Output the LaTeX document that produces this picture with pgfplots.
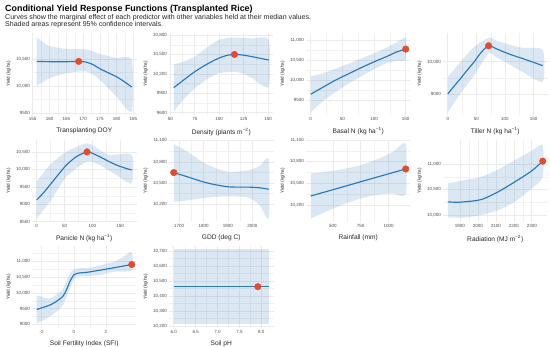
\documentclass[border=0pt]{standalone}
\usepackage{pgfplots}
\pgfplotsset{compat=1.18}
\usepackage{fontspec}
\setmainfont{Liberation Sans}
\definecolor{linec}{HTML}{2878B5}
\definecolor{bandc}{HTML}{2878B5}
\definecolor{ptc}{HTML}{E6492D}
\definecolor{gridc}{HTML}{EBEBEB}
\definecolor{tickc}{HTML}{4D4D4D}
\pgfplotsset{
  panel/.style={
    scale only axis, width=104.5pt, height=82pt,
    anchor=south west,
    axis line style={draw=none},
    major tick length=0pt, minor tick length=0pt,
    grid=both,
    major grid style={color=gridc, line width=0.55pt},
    minor grid style={color=gridc!70, line width=0.3pt},
    minor x tick num=1, minor y tick num=1,
    enlarge x limits=0.05,
    scaled x ticks=false, scaled y ticks=false,
    /pgf/number format/assume math mode=true,
    tick label style={font=\fontsize{4.5}{5}\selectfont, text=tickc},
    yticklabel style={/pgf/number format/1000 sep={,}, /pgf/number format/min exponent for 1000 sep=4, inner sep=1.8pt},
    xticklabel style={/pgf/number format/1000 sep={}, inner sep=2.6pt},
    ylabel={Yield (kg/ha)},
    ylabel style={font=\fontsize{4.6}{5}\selectfont, text=black!85, inner sep=1pt},
    every axis y label/.append style={at={(ticklabel cs:0.5,2.5pt)}},
    every axis x label/.append style={at={(ticklabel cs:0.5,2.5pt)}},
    xlabel style={font=\fontsize{6.6}{7}\selectfont, text=black!85, inner sep=1.5pt},
  },
  curve/.style={color=linec, line width=1.15pt, smooth},
  pt/.style={only marks, mark=*, mark size=3.3pt, color=ptc},
  band/.style={fill=bandc, fill opacity=0.17, draw=none, smooth, tension=0.4},
}
\begin{document}
\begin{tikzpicture}
\useasboundingbox (0pt,0pt) rectangle (550pt,-347pt);
\node[anchor=base west, inner sep=0pt, font=\fontsize{8.9}{9}\selectfont\bfseries] at (5pt,-11.5pt) {Conditional Yield Response Functions (Transplanted Rice)};
\node[anchor=base west, inner sep=0pt, font=\fontsize{7.05}{7}\selectfont, text=black!85] at (5pt,-19.7pt) {Curves show the marginal effect of each predictor with other variables held at their median values.};
\node[anchor=base west, inner sep=0pt, font=\fontsize{7.05}{7}\selectfont, text=black!85] at (5pt,-27pt) {Shaded areas represent 95\% confidence intervals.};

% Row 1
\begin{axis}[panel, at={(32pt,-115pt)}, ymin=9463, ymax=10981,
  xtick={155,160,...,185}, ytick={9500,10000,10500}, xlabel={Transplanting DOY}]
\addplot[band] coordinates {(156.2,10906)(158,10810)(160,10737)(165,10687)(171,10675)(175,10594)(180,10519)(184.5,10487)
     (184.5,9530)(180,9800)(175,10112)(171,10270)(165,10237)(160,10144)(156.2,10000)} -- cycle;
\addplot[curve] coordinates {(156.2,10455)(160,10450)(164,10448)(168.7,10455)(171,10440)(173,10395)(175,10320)(178,10230)(180,10170)(182.5,10070)(184.5,9980)};
\addplot[pt] coordinates {(168.7,10455)};
\end{axis}

\begin{axis}[panel, at={(169pt,-115pt)}, ymin=9564, ymax=10831,
  xtick={50,75,100,125,150}, ytick={9600,9900,10200,10500,10800}, xlabel={Density (plants m\textsuperscript{−2})}]
\addplot[band] coordinates {(53.5,10346)(62,10380)(75,10464)(87,10600)(99,10721)(110,10757)(120,10760)(134,10747)(150.7,10721)
     (150.7,10001)(134,10130)(125,10200)(115.6,10233)(99,10207)(87,10110)(75,9976)(62,9780)(53.5,9616)} -- cycle;
\addplot[curve] coordinates {(53.5,9986)(65,10120)(75,10233)(87,10345)(99,10438)(108,10485)(115.6,10500)(125,10488)(134,10464)(142,10440)(150.7,10413)};
\addplot[pt] coordinates {(115.6,10500)};
\end{axis}

\begin{axis}[panel, at={(306pt,-115pt)}, ymin=9120, ymax=11195,
  xtick={0,50,100,150}, ytick={9500,10000,10500,11000}, xlabel={Basal N (kg ha\textsuperscript{−1})}]
\addplot[band] coordinates {(0,10093)(20,10180)(40,10300)(60,10420)(80,10555)(100,10680)(120,10830)(135,10950)(150,11068)
     (150,10517)(135,10490)(120,10430)(100,10280)(80,10100)(60,9920)(40,9712)(20,9480)(0,9187)} -- cycle;
\addplot[curve] coordinates {(0,9645)(20,9830)(40,10009)(60,10165)(80,10320)(100,10465)(120,10600)(135,10710)(150,10788)};
\addplot[pt] coordinates {(150,10788)};
\end{axis}

\begin{axis}[panel, at={(443pt,-115pt)}, ymin=8349, ymax=10890,
  xtick={0,50,100,150}, ytick={9000,10000}, xlabel={Tiller N (kg ha\textsuperscript{−1})}]
\addplot[band] coordinates {(0,9536)(22.6,10000)(46.4,10464)(71.4,10742)(85,10650)(100,10567)(130,10433)(166,10361)
     (166,9382)(130,9691)(100,10000)(85,10130)(71.4,10258)(46.4,9588)(22.6,9021)(0,8434)} -- cycle;
\addplot[curve] coordinates {(0,9000)(11,9240)(22.6,9485)(35,9760)(46.4,10000)(58,10280)(71.4,10494)(85,10400)(100,10289)(115,10190)(130,10103)(150,9980)(166,9876)};
\addplot[pt] coordinates {(71.4,10494)};
\end{axis}

% Row 2
\begin{axis}[panel, at={(32pt,-222pt)}, ymin=8491, ymax=10854,
  xtick={0,50,100,150}, ytick={8500,9000,...,10500}, xlabel={Panicle N (kg ha\textsuperscript{−1})}]
\addplot[band] coordinates {(0,9655)(23.8,10135)(53.6,10519)(90.5,10759)(113,10567)(131,10423)(171,10423)
     (171,9607)(143,9847)(113,10135)(90.5,10231)(53.6,9799)(23.8,9079)(0,8599)} -- cycle;
\addplot[curve] coordinates {(0,9127)(12,9330)(23.8,9559)(40,9880)(53.6,10135)(71.4,10375)(90.5,10510)(100,10470)(113,10375)(128,10250)(143,10135)(160,10040)(171,9991)};
\addplot[pt] coordinates {(90.5,10510)};
\end{axis}

\begin{axis}[panel, at={(169pt,-222pt)}, ymin=9944, ymax=11110,
  xtick={1700,1800,1900,2000}, ytick={10200,10500,10800,11100}, xlabel={GDD (deg C)}]
\addplot[band] coordinates {(1678,11052)(1731,10950)(1814,10760)(1900,10660)(1984,10680)(2030,10740)(2067,10830)
     (2067,9997)(2030,10180)(1984,10290)(1900,10310)(1814,10290)(1731,10250)(1678,10230)} -- cycle;
\addplot[curve] coordinates {(1678,10647)(1731,10590)(1814,10500)(1900,10445)(1984,10440)(2030,10430)(2067,10410)};
\addplot[pt] coordinates {(1678,10647)};
\end{axis}

\begin{axis}[panel, at={(306pt,-222pt)}, ymin=9965, ymax=11100,
  xtick={500,750,1000}, ytick={10200,10500,10800,11100}, xlabel={Rainfall (mm)}]
\addplot[band] coordinates {(302,10637)(533,10681)(743,10749)(923,10848)(1040,10939)(1154,11044)
     (1154,10354)(1040,10359)(923,10348)(743,10289)(533,10171)(302,10013)} -- cycle;
\addplot[curve] coordinates {(302,10325)(533,10426)(743,10519)(923,10598)(1040,10649)(1154,10699)};
\addplot[pt] coordinates {(1154,10699)};
\end{axis}

\begin{axis}[panel, at={(443pt,-222pt)}, ymin=9863, ymax=11470,
  xtick={1900,2000,2100,2200,2300}, ytick={10000,10500,11000}, xlabel={Radiation (MJ m\textsuperscript{−2})}]
\addplot[band] coordinates {(1833,10618)(1926,10683)(2020,10749)(2113,10892)(2206,11076)(2300,11259)(2361,11370)
     (2361,10749)(2300,10520)(2206,10258)(2113,10095)(2020,10000)(1926,9951)(1833,9951)} -- cycle;
\addplot[curve] coordinates {(1833,10258)(1878,10250)(1926,10258)(2020,10304)(2113,10454)(2206,10650)(2300,10866)(2361,11056)};
\addplot[pt] coordinates {(2361,11056)};
\end{axis}

% Row 3
\begin{axis}[panel, at={(32pt,-328pt)}, ymin=8882, ymax=11490,
  xtick={-2,0,2}, ytick={9000,9500,...,11500}, xlabel={Soil Fertility Index (SFI)}]
\addplot[band] coordinates {(-2.3,9926)(-1.9,9860)(-1.5,9820)(-1.1,9930)(-0.67,10138)(-0.25,10615)(0,10740)(0.17,10774)(1,10800)(1.63,10880)(2.46,10986)(3.0,11120)(3.6,11304)
     (3.6,10721)(2.46,10668)(1.63,10562)(1,10540)(0.17,10509)(0,10420)(-0.25,10138)(-0.67,9608)(-1.1,9400)(-1.5,9237)(-1.9,9130)(-2.3,9025)} -- cycle;
\addplot[curve] coordinates {(-2.3,9470)(-1.9,9540)(-1.5,9608)(-1.1,9720)(-0.67,9894)(-0.45,10100)(-0.25,10350)(0,10570)(0.17,10615)(0.5,10640)(0.79,10650)(1.63,10721)(2.46,10795)(3.0,10845)(3.6,10901)};
\addplot[pt] coordinates {(3.6,10901)};
\end{axis}

\begin{axis}[panel, at={(169pt,-328pt)}, ymin=10187, ymax=10733,
  xtick={6,6.5,...,8}, ytick={10200,10300,...,10700}, xlabel={Soil pH},
  xticklabel style={/pgf/number format/fixed, /pgf/number format/fixed zerofill, /pgf/number format/precision=1}]
\addplot[fill=bandc, fill opacity=0.17, draw=none] coordinates {(6.0,10710)(8.17,10710)(8.17,10213)(6.0,10213)} -- cycle;
\addplot[color=linec, line width=1.15pt] coordinates {(6.0,10462)(7.0,10462)(8.17,10462)};
\addplot[pt] coordinates {(7.92,10462)};
\end{axis}
\end{tikzpicture}
\end{document}
